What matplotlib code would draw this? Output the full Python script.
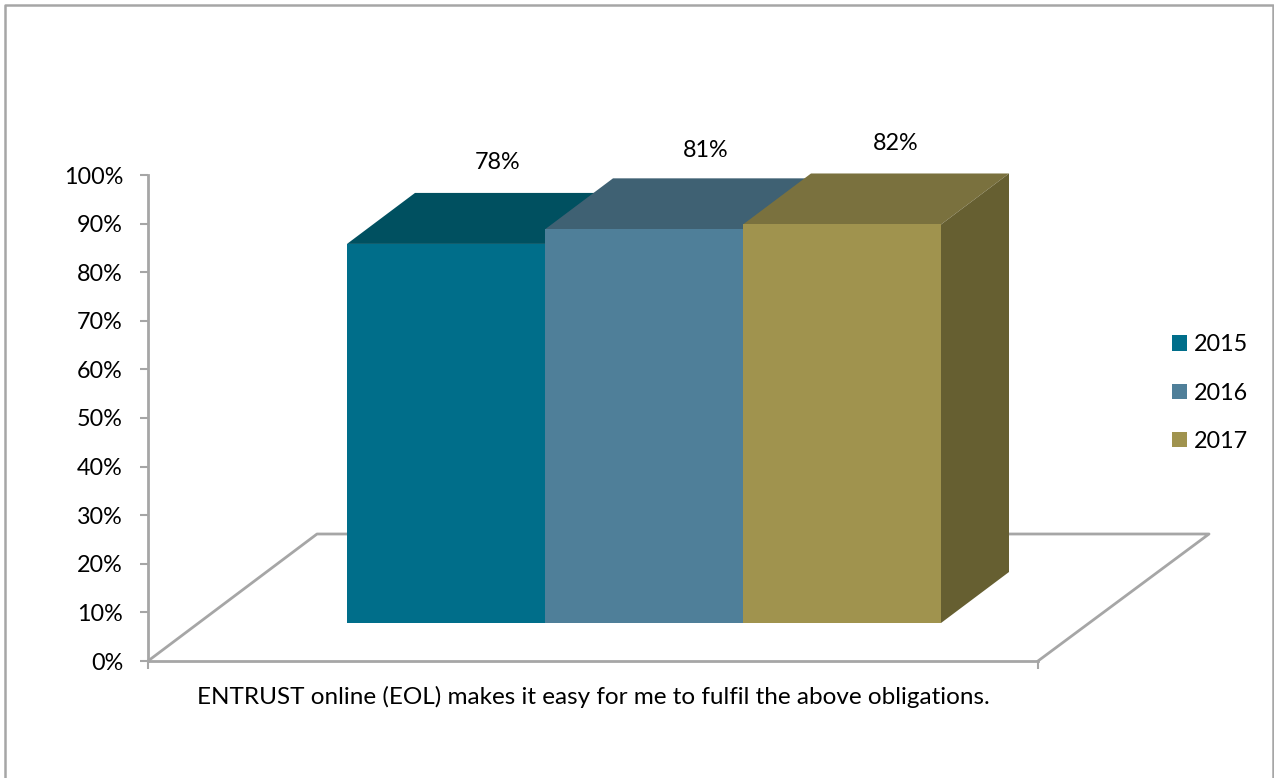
import matplotlib
matplotlib.use("Agg")
import matplotlib.pyplot as plt
from matplotlib.patches import Patch, Polygon
from matplotlib.lines import Line2D

years = ['2015', '2016', '2017']
values = [78, 81, 82]
value_labels = ['78%', '81%', '82%']
front_colors = ['#006E8A', '#4F7F99', '#A0934E']
top_colors = ['#005060', '#3F6173', '#7A713E']
side_colors = ['#004A5C', '#38586A', '#665F31']
category = 'ENTRUST online (EOL) makes it easy for me to fulfil the above obligations.'
yticks = [0, 10, 20, 30, 40, 50, 60, 70, 80, 90, 100]

GRAY = '#A6A6A6'
W, H = 1274, 778
FS = 16.8

plt.rcParams['font.family'] = ['Lato', 'DejaVu Sans']

fig = plt.figure(figsize=(W / 100, H / 100), dpi=100, facecolor='white')
ax = fig.add_axes([148 / W, (H - 661) / H, 890 / W, 486 / H])
ax.set_xlim(0, 1)
ax.set_ylim(0, 100)
ax.patch.set_visible(False)

# oblique floor, sizes in axis units
floor_dx, floor_dy = 169 / 890, 127 / 4.86
ax.add_line(Line2D([0, floor_dx, 1 + floor_dx + 2 / 890, 1],
                   [0, floor_dy, floor_dy, 0],
                   color=GRAY, lw=2, clip_on=False, zorder=1))

# bars stand on the floor, part of the way back
bar_x0 = 199 / 890
bar_w = 198 / 890
bar_base = 38 / 4.86
depth_x, depth_y = 68 / 890, 51 / 4.86

for i in range(len(values)):
    x0 = bar_x0 + i * bar_w
    x1 = x0 + bar_w
    top = bar_base + values[i]
    z = 3 + i
    ax.bar(x0, values[i], width=bar_w, bottom=bar_base, align='edge',
           color=front_colors[i], clip_on=False, zorder=z + 0.2)
    ax.add_patch(Polygon([(x0, top), (x1, top), (x1 + depth_x, top + depth_y), (x0 + depth_x, top + depth_y)],
                         facecolor=top_colors[i], edgecolor='none', clip_on=False, zorder=z))
    ax.add_patch(Polygon([(x1, bar_base), (x1 + depth_x, bar_base + depth_y), (x1 + depth_x, top + depth_y), (x1, top)],
                         facecolor=side_colors[i], edgecolor='none', clip_on=False, zorder=z))

# data labels sit up and to the right of each bar
label_dx = [52, 62, 54]
label_dy = [81, 79, 81]
for i in range(len(values)):
    xc = bar_x0 + (i + 0.5) * bar_w
    ax.annotate(value_labels[i], (xc, bar_base + values[i]),
                xytext=(label_dx[i] * 0.72, label_dy[i] * 0.72), textcoords='offset points',
                ha='center', va='center', fontsize=FS, color='black', zorder=10)

for s in ['top', 'right']:
    ax.spines[s].set_visible(False)
for s in ['left', 'bottom']:
    ax.spines[s].set_color(GRAY)
    ax.spines[s].set_linewidth(2)

ax.set_yticks(yticks)
ax.set_yticklabels(['%d%%' % v for v in yticks], fontsize=FS)
ax.tick_params(axis='y', length=6, width=1.5, color=GRAY, pad=12)
ax.set_xticks([0, 1])
ax.set_xticklabels(['', ''])
ax.tick_params(axis='x', length=6, width=1.5, color=GRAY)
ax.set_xticks([0.5], minor=True)
ax.set_xticklabels([category], minor=True, fontsize=17.5)
ax.tick_params(axis='x', which='minor', length=0, pad=18)

handles = [Patch(facecolor=front_colors[i], edgecolor='none', label=years[i]) for i in range(3)]
fig.legend(handles=handles, loc='center left', bbox_to_anchor=(1172 / W, (H - 393) / H),
           frameon=False, fontsize=FS, handlelength=0.65, handleheight=0.65,
           handletextpad=0.28, labelspacing=1.16, borderpad=0, borderaxespad=0)

# chart area outline, open at the bottom
fig.add_artist(Line2D([5 / W, 5 / W, 1273 / W, 1273 / W],
                      [0, (H - 5) / H, (H - 5) / H, 0],
                      transform=fig.transFigure, color=GRAY, lw=1.8))

fig.savefig('out.png', dpi=100)
